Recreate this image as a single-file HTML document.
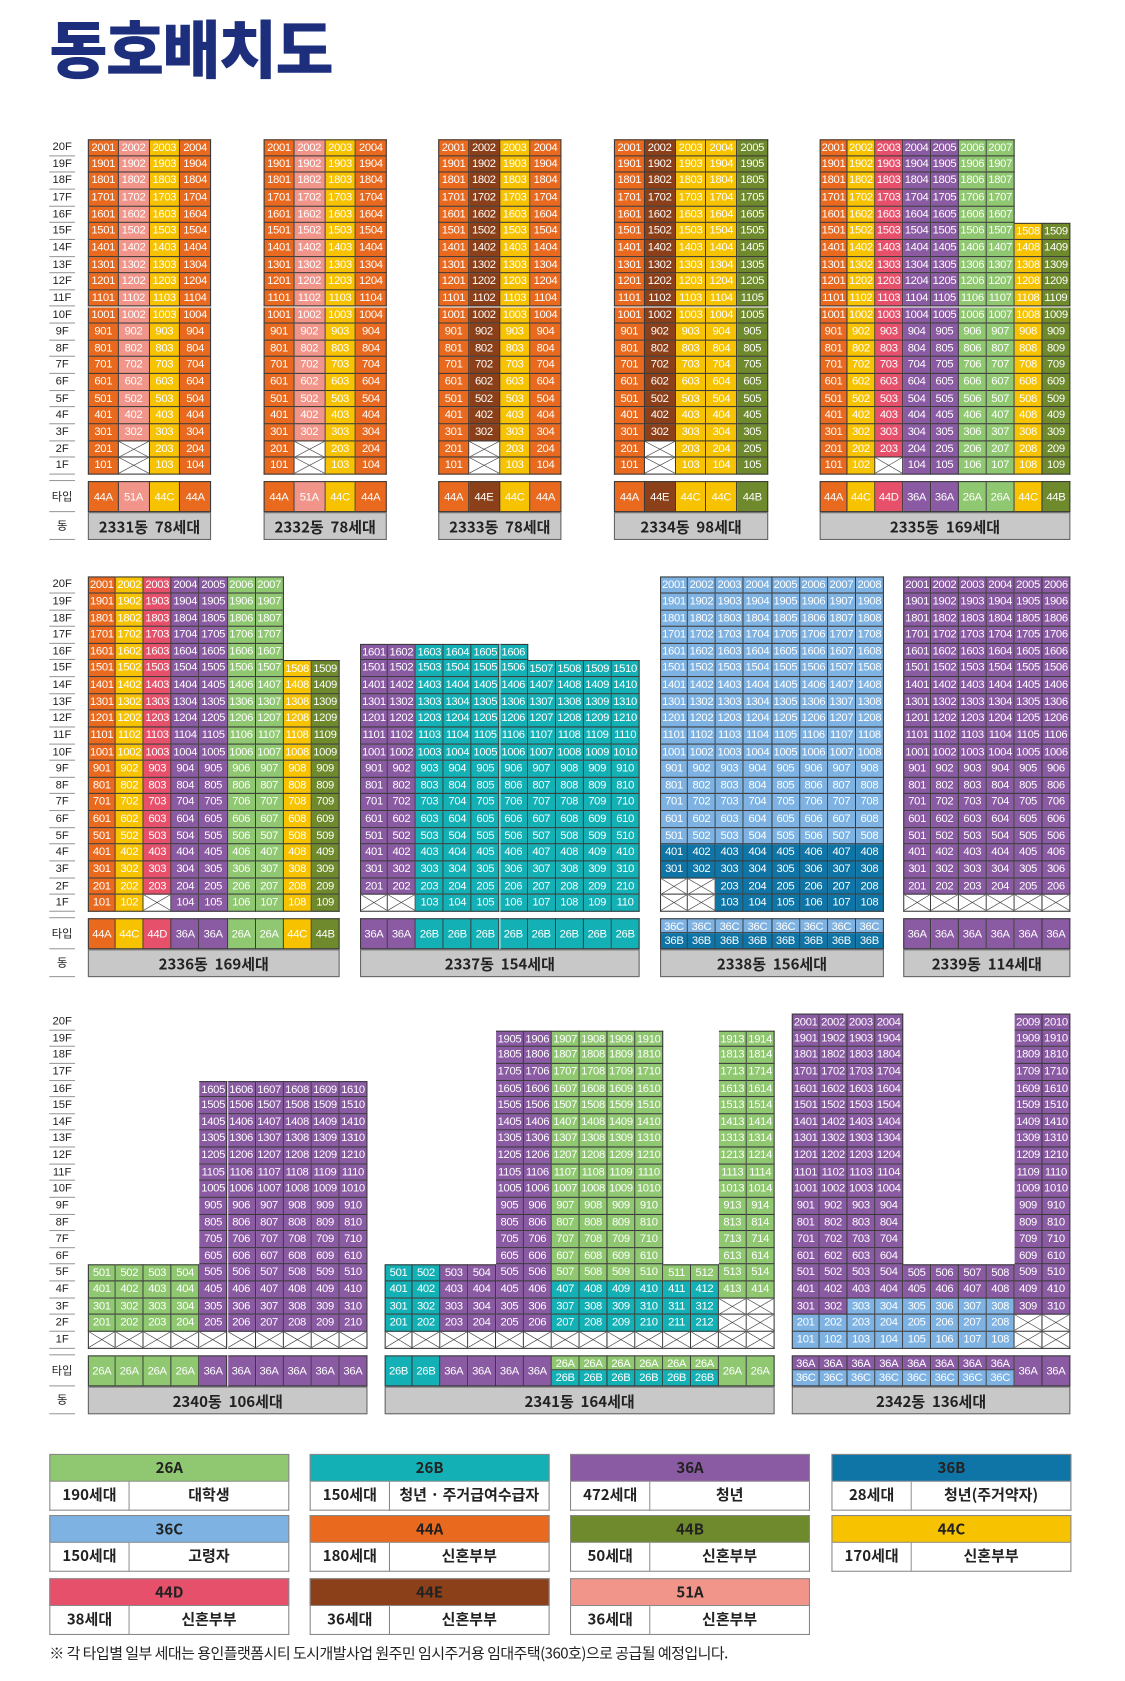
<!DOCTYPE html>
<html><head><meta charset="utf-8">
<style>
html,body{margin:0;padding:0;background:#fff;}
body{width:1125px;height:1681px;overflow:hidden;position:relative;}
#stage{position:absolute;left:0;top:0;width:1050px;height:1569px;transform:scale(1.0714286);transform-origin:0 0;font-family:"Liberation Sans","Noto Sans CJK KR",sans-serif;}
.abs{position:absolute;box-sizing:border-box;}
.cell{position:absolute;box-sizing:border-box;border-right:1px solid #3a3a3a;border-bottom:1px solid #3a3a3a;color:#fff;font-size:10.5px;text-align:center;overflow:hidden;white-space:nowrap;letter-spacing:-0.3px;}
.fl{position:absolute;box-sizing:border-box;border-bottom:1px solid #9a9a9a;font-size:10.5px;color:#222;text-align:center;}
.dong{position:absolute;box-sizing:border-box;background:#c8c8c8;border:1px solid #666;color:#222;font-weight:bold;font-size:14px;text-align:center;font-family:"Noto Sans CJK KR",sans-serif;}
.lg{position:absolute;box-sizing:border-box;font-family:"Noto Sans CJK KR",sans-serif;color:#222;}
</style></head>
<body>
<div id="stage">
<div class="abs" style="left:46px;top:8px;font-family:'Noto Sans CJK KR',sans-serif;font-weight:900;font-size:59px;letter-spacing:-1.5px;color:#1d2f7c;line-height:70px;">동호배치도</div>
</div>
<script>
const TYPE_COLORS = {"26A":"#8fc870","26B":"#13b1b5","36A":"#8a5aa3","36B":"#0f74a6","36C":"#7db2e2","44A":"#e9691f","44B":"#6e8a2d","44C":"#f7c200","44D":"#e6506a","44E":"#8b4019","51A":"#f1958a"};
const SECTION_TOPS = [130.2, 538.3, 946];
const ROW_H = 15.63;
const buildingNames = ["2331","2332","2333","2334","2335","2336","2337","2338","2339","2340","2341","2342"];
const buildingUnits = [78,78,78,98,169,169,154,156,114,106,164,136];
const buildingSection = [0,0,0,0,0,1,1,1,1,2,2,2];
const buildingX = [[82,197],[246,361],[409,524],[573,717],[765,999],[82,317],[336,597],[616,825],[843,999],[82,343],[359,723],[739,999]];
const buildingCols = [
 ["1-20:44A","1-2:X,3-20:51A","1-20:44C","1-20:44A"],
 ["1-20:44A","1-2:X,3-20:51A","1-20:44C","1-20:44A"],
 ["1-20:44A","1-2:X,3-20:44E","1-20:44C","1-20:44A"],
 ["1-20:44A","1-2:X,3-20:44E","1-20:44C","1-20:44C","1-20:44B"],
 ["1-20:44A","1-20:44C","1:X,2-20:44D","1-20:36A","1-20:36A","1-20:26A","1-20:26A","1-15:44C","1-15:44B"],
 ["1-20:44A","1-20:44C","1:X,2-20:44D","1-20:36A","1-20:36A","1-20:26A","1-20:26A","1-15:44C","1-15:44B"],
 ["1:X,2-16:36A","1:X,2-16:36A","1-16:26B","1-16:26B","1-16:26B","1-16:26B","1-15:26B","1-15:26B","1-15:26B","1-15:26B"],
 ["1-2:X,3-4:36B,5-20:36C","1-2:X,3-4:36B,5-20:36C","1-4:36B,5-20:36C","1-4:36B,5-20:36C","1-4:36B,5-20:36C","1-4:36B,5-20:36C","1-4:36B,5-20:36C","1-4:36B,5-20:36C"],
 ["1:X,2-20:36A","1:X,2-20:36A","1:X,2-20:36A","1:X,2-20:36A","1:X,2-20:36A","1:X,2-20:36A"],
 ["1:X,2-5:26A","1:X,2-5:26A","1:X,2-5:26A","1:X,2-5:26A","1:X,2-16:36A","1:X,2-16:36A","1:X,2-16:36A","1:X,2-16:36A","1:X,2-16:36A","1:X,2-16:36A"],
 ["1:X,2-5:26B","1:X,2-5:26B","1:X,2-5:36A","1:X,2-5:36A","1:X,2-19:36A","1:X,2-19:36A","1:X,2-4:26B,5-19:26A","1:X,2-4:26B,5-19:26A","1:X,2-4:26B,5-19:26A","1:X,2-4:26B,5-19:26A","1:X,2-4:26B,5:26A","1:X,2-4:26B,5:26A","1-3:X,4-19:26A","1-3:X,4-19:26A"],
 ["1-2:36C,3-20:36A","1-2:36C,3-20:36A","1-3:36C,4-20:36A","1-3:36C,4-20:36A","1-3:36C,4-5:36A","1-3:36C,4-5:36A","1-3:36C,4-5:36A","1-3:36C,4-5:36A","1-2:X,3-20:36A","1-2:X,3-20:36A"]
];
const buildingTypes = [
 ["44A","51A","44C","44A"],["44A","51A","44C","44A"],["44A","44E","44C","44A"],["44A","44E","44C","44C","44B"],
 ["44A","44C","44D","36A","36A","26A","26A","44C","44B"],["44A","44C","44D","36A","36A","26A","26A","44C","44B"],
 ["36A","36A","26B","26B","26B","26B","26B","26B","26B","26B"],
 ["36C/36B","36C/36B","36C/36B","36C/36B","36C/36B","36C/36B","36C/36B","36C/36B"],
 ["36A","36A","36A","36A","36A","36A"],
 ["26A","26A","26A","26A","36A","36A","36A","36A","36A","36A"],
 ["26B","26B","36A","36A","36A","36A","26A/26B","26A/26B","26A/26B","26A/26B","26A/26B","26A/26B","26A","26A"],
 ["36A/36C","36A/36C","36A/36C","36A/36C","36A/36C","36A/36C","36A/36C","36A/36C","36A","36A"]
];
const legendTypes = ["26A","26B","36A","36B","36C","44A","44B","44C","44D","44E","51A"];
const legendCounts = ["190세대","150세대","472세대","28세대","150세대","180세대","50세대","170세대","38세대","36세대","36세대"];
const legendDesc = ["대학생","청년 · 주거급여수급자","청년","청년(주거약자)","고령자","신혼부부","신혼부부","신혼부부","신혼부부","신혼부부","신혼부부"];

const stage = document.getElementById('stage');
function mk(cls, l, t, w, h, txt){
  const d = document.createElement('div');
  d.className = cls;
  d.style.left = l+'px'; d.style.top = t+'px'; d.style.width = w+'px'; d.style.height = h+'px';
  d.style.lineHeight = h+'px';
  if (txt !== undefined) d.textContent = txt;
  stage.appendChild(d);
  return d;
}
function parseCol(spec){
  const floors = {};
  spec.split(',').forEach(seg=>{
    const [rng, t] = seg.split(':');
    const [a,b] = rng.split('-').map(Number);
    for (let f=a; f<=(b||a); f++) floors[f]=t;
  });
  return floors;
}
const XSVG = '<svg width="100%" height="100%" viewBox="0 0 10 10" preserveAspectRatio="none" style="position:absolute;left:0;top:0"><line x1="0" y1="0" x2="10" y2="10" stroke="#444" stroke-width="0.6" vector-effect="non-scaling-stroke"/><line x1="10" y1="0" x2="0" y2="10" stroke="#444" stroke-width="0.6" vector-effect="non-scaling-stroke"/></svg>';

SECTION_TOPS.forEach((top, s)=>{
  for (let i=0;i<20;i++){
    const f = 20-i;
    const d = mk('fl', 46, top+i*ROW_H, 24, ROW_H, f+'F');
    
    
  }
  const tt = top+20*ROW_H+6;
  const l1 = mk('fl', 46, tt, 24, 29, '타입');
  
  
  l1.style.fontFamily = '"Noto Sans CJK KR",sans-serif';
  const l2 = mk('fl', 46, tt+29, 24, 26, '동');
  
  
  l2.style.fontFamily = '"Noto Sans CJK KR",sans-serif';
  const top1 = mk('fl', 46, tt-1, 24, 1);
  
  
});

buildingNames.forEach((name, b)=>{
  const top = SECTION_TOPS[buildingSection[b]];
  const [x0,x1] = buildingX[b];
  const cols = buildingCols[b];
  const cw = (x1-x0)/cols.length;
  cols.forEach((spec, c)=>{
    const fl = parseCol(spec);
    for (let f=1; f<=20; f++){
      const t = fl[f];
      if (!t) continue;
      const x = x0+c*cw, y = top+(20-f)*ROW_H;
      const unit = String(f*100+c+1);
      const d = mk('cell', x, y, cw, ROW_H, t==='X' ? '' : unit);
      
      
      if (c===0) d.style.borderLeft = '1px solid #3a3a3a';
      if (!fl[f+1]) d.style.borderTop = '1px solid #3a3a3a';
      if (t==='X'){ d.style.background='#fff'; d.innerHTML = XSVG; }
      else d.style.background = TYPE_COLORS[t];
    }
  });
  const tt = top+20*ROW_H+6;
  buildingTypes[b].forEach((tp, c)=>{
    const x = x0+c*cw;
    const parts = tp.split('/');
    const h = 29/parts.length;
    parts.forEach((p,k)=>{
      const d = mk('cell', x, tt+k*h, cw, h, p);
      
      
      d.style.background = TYPE_COLORS[p];
      d.style.borderTop = k===0 ? '1px solid #3a3a3a' : 'none';
      if (c===0) d.style.borderLeft = '1px solid #3a3a3a';
    });
  });
  const dg = mk('dong', x0, tt+29, x1-x0, 26, name+'동  '+buildingUnits[b]+'세대');
  dg.style.whiteSpace = 'pre';
  
  
});

const LX = [46,289,532,776], LY = [1357,1414,1473], LW = 224;
legendTypes.forEach((t,i)=>{
  const x = LX[i%4], y = LY[Math.floor(i/4)];
  const h = mk('lg', x, y, LW, 26, t);
  h.style.background = TYPE_COLORS[t]; h.style.border='1px solid #888'; h.style.textAlign='center';
  h.style.fontWeight='bold'; h.style.fontSize='14px'; h.style.lineHeight='24px';
  
  
  const c = mk('lg', x, y+26, 75, 27, legendCounts[i]);
  c.style.background='#fff'; c.style.border='1px solid #888'; c.style.borderTop='none'; c.style.textAlign='center';
  c.style.fontSize='14px'; c.style.fontWeight='bold'; c.style.lineHeight='25px';
  
  
  const d = mk('lg', x+75, y+26, LW-75, 27, legendDesc[i]);
  d.style.background='#fff'; d.style.border='1px solid #888'; d.style.borderTop='none'; d.style.borderLeft='none'; d.style.textAlign='center';
  d.style.fontSize='14px'; d.style.fontWeight='bold'; d.style.lineHeight='25px';
  
  
});
const note = mk('lg', 46, 1533, 900, 20, '※ 각 타입별 일부 세대는 용인플랫폼시티 도시개발사업 원주민 임시주거용 임대주택(360호)으로 공급될 예정입니다.');
note.style.fontSize='14px'; note.style.letterSpacing='-0.5px';


</script>
</body></html>
